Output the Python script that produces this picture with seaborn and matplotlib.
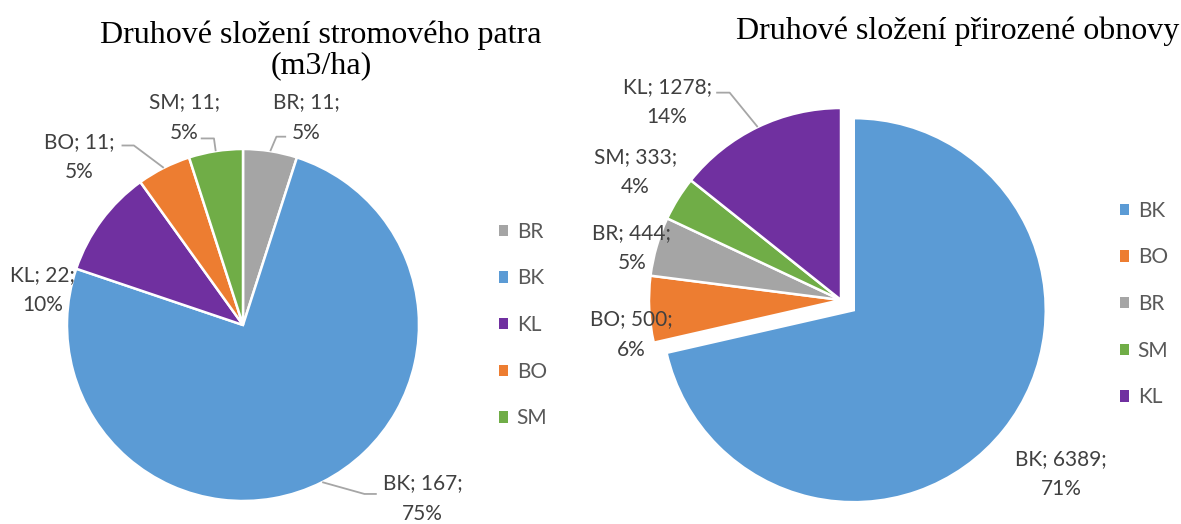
import matplotlib
matplotlib.use("Agg")
import matplotlib.pyplot as plt
from matplotlib.patches import Patch
import numpy as np
import seaborn as sns

# strom. patro (m3/ha)
left_species = ["BR", "BK", "KL", "BO", "SM"]
left_values = [11, 167, 22, 11, 11]

# prirozena obnova
right_species = ["BK", "BO", "BR", "SM", "KL"]
right_values = [6389, 500, 444, 333, 1278]

left_title = "Druhové složení stromového patra\n(m3/ha)"
right_title = "Druhové složení přirozené obnovy"

species_colors = dict(zip(["BK", "BO", "BR", "SM", "KL"],
                          sns.color_palette(["#5B9BD5", "#ED7D31", "#A5A5A5", "#70AD47", "#7030A0"])))

# label placement (in pie radius units) - excel "best fit" copied by eye
left_label_pos = {"BR": (0.36, 1.18), "BK": (1.02, -0.985), "KL": (-1.14, 0.20),
                  "BO": (-0.93, 0.955), "SM": (-0.335, 1.18)}
left_leaders = {"BR": (0.19, 1.07, 0.245), "SM": (-0.165, 1.06, -0.24),
                "BO": (-0.62, 1.02, -0.69), "BK": (0.69, -0.96, 0.76)}
right_label_pos = {"KL": (-0.906, 1.03), "SM": (-1.07, 0.667), "BR": (-1.09, 0.27),
                   "BO": (-1.09, -0.18), "BK": (1.146, -0.906)}
right_leaders = {"KL": (-0.58, 1.08, -0.65)}

W, H = 1181, 524
sns.set_theme(style="white")
plt.rcParams["font.family"] = ["Lato", "DejaVu Sans"]

fig = plt.figure(figsize=(W / 100, H / 100), dpi=100)

LABEL_COLOR = "#404040"
LINE_COLOR = "#A6A6A6"


def draw_pie(box, cx, cy, r, species, values, label_pos, leaders, explode=None):
    # box = (x0, x1) pixel span of the axes; pie centre cx, cy and radius r in pixels
    x0, x1 = box
    ax = fig.add_axes([x0 / W, 0, (x1 - x0) / W, 1])
    colors = [species_colors[s] for s in species]
    wedges, _ = ax.pie(values, colors=colors, startangle=90, counterclock=False,
                       explode=explode,
                       wedgeprops=dict(edgecolor="white", linewidth=1.8))
    ax.set_aspect("auto")
    ax.set_xlim((x0 - cx) / r, (x1 - cx) / r)
    ax.set_ylim(-(H - cy) / r, cy / r)
    ax.axis("off")
    total = sum(values)
    for w, s, v in zip(wedges, species, values):
        pct = round(v / total * 100)
        lx, ly = label_pos[s]
        ax.text(lx, ly, f"{s}; {v};\n{pct}%", ha="center", va="center",
                multialignment="center", fontsize=15, color=LABEL_COLOR,
                linespacing=1.65)
        if s in leaders:
            ex, ey, endx = leaders[s]
            mid = np.deg2rad((w.theta1 + w.theta2) / 2)
            px = w.center[0] + w.r * np.cos(mid)
            py = w.center[1] + w.r * np.sin(mid)
            ax.plot([px, ex, endx], [py, ey, ey], color=LINE_COLOR, lw=1.3,
                    solid_capstyle="butt")
    return ax


draw_pie((0, 590), 243, 325, 176, left_species, left_values, left_label_pos, left_leaders)
draw_pie((590, W), 841, 300, 192, right_species, right_values, right_label_pos, right_leaders,
         explode=[0.085, 0, 0, 0, 0])

fig.text(321 / W, 1 - 50 / H, left_title, ha="center", va="center",
         family="Liberation Serif", fontsize=23, color="black", linespacing=1.05)
fig.text(958 / W, 1 - 31 / H, right_title, ha="center", va="center",
         family="Liberation Serif", fontsize=23, color="black")


def add_legend(species, x_px, y_px):
    handles = [Patch(facecolor=species_colors[s], edgecolor="none") for s in species]
    fig.legend(handles, species, loc="center left",
               bbox_to_anchor=(x_px / W, 1 - y_px / H), frameon=False,
               fontsize=15, handlelength=0.45, handleheight=0.45,
               handletextpad=0.4, labelspacing=1.28, borderpad=0,
               borderaxespad=0, labelcolor="#595959")


add_legend(left_species, 499, 325)
add_legend(right_species, 1120, 304)

fig.savefig("out.png", dpi=100)
